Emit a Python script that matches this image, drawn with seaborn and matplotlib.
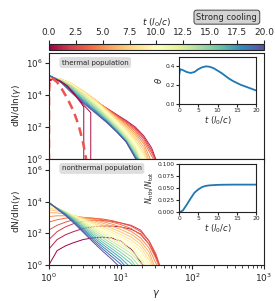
import numpy as np
import pandas as pd
import seaborn as sns
import matplotlib.pyplot as plt
from matplotlib.colors import Normalize
from matplotlib.cm import ScalarMappable

# time steps of the spectra (l0/c)
times = list(range(0, 21))

# thermal population: log10(dN/dln gamma) on a shared gamma grid
therm_gamma = [1.0, 1.2, 1.5, 2.0, 3.0, 4.5, 6.5, 9.0, 12.0, 16.0, 21.0, 27.0, 34.0]
therm_log = {
    1:  [4.95, 5.00, 4.90, 4.60, 4.10, 3.60, 3.15, 2.75, 2.40, 2.00, 1.45, 0.70, -0.5],
    2:  [4.98, 5.02, 4.92, 4.63, 4.12, 3.62, 3.15, 2.73, 2.35, 1.92, 1.35, 0.55, -0.5],
    3:  [5.00, 5.03, 4.93, 4.66, 4.15, 3.63, 3.13, 2.70, 2.30, 1.85, 1.25, 0.40, -0.5],
    4:  [5.02, 5.04, 4.95, 4.70, 4.18, 3.65, 3.12, 2.65, 2.22, 1.75, 1.10, 0.20, -0.6],
    5:  [5.04, 5.05, 4.97, 4.73, 4.22, 3.67, 3.10, 2.60, 2.15, 1.62, 0.95, -0.2],
    6:  [5.06, 5.06, 4.98, 4.75, 4.24, 3.68, 3.08, 2.55, 2.05, 1.50, 0.75, -0.5],
    7:  [5.08, 5.07, 4.98, 4.76, 4.25, 3.68, 3.05, 2.48, 1.95, 1.35, 0.55, -0.6],
    8:  [5.10, 5.08, 4.98, 4.76, 4.24, 3.65, 3.00, 2.40, 1.85, 1.20, 0.35, -0.6],
    9:  [5.11, 5.08, 4.97, 4.74, 4.20, 3.60, 2.93, 2.32, 1.75, 1.08, 0.20, -0.5],
    10: [5.12, 5.08, 4.96, 4.72, 4.16, 3.54, 2.86, 2.24, 1.65, 0.95, 0.05, -0.6],
    11: [5.13, 5.08, 4.95, 4.69, 4.11, 3.47, 2.78, 2.15, 1.55, 0.82, -0.2],
    12: [5.14, 5.08, 4.93, 4.65, 4.05, 3.40, 2.70, 2.06, 1.45, 0.70, -0.5],
    13: [5.15, 5.08, 4.91, 4.61, 3.99, 3.32, 2.62, 1.98, 1.36, 0.58, -0.6],
    14: [5.17, 5.07, 4.89, 4.56, 3.92, 3.24, 2.54, 1.90, 1.27, 0.46, -0.6],
    15: [5.18, 5.07, 4.86, 4.50, 3.85, 3.16, 2.47, 1.83, 1.20, 0.35, -0.6],
    16: [5.19, 5.06, 4.84, 4.44, 3.77, 3.08, 2.41, 1.77, 1.14, 0.25, -0.6],
    17: [5.20, 5.06, 4.81, 4.38, 3.70, 3.01, 2.36, 1.72, 1.10, 0.18, -0.6],
    18: [5.22, 5.05, 4.79, 4.32, 3.63, 2.95, 2.31, 1.68, 1.07, 0.12, -0.6],
    19: [5.23, 5.05, 4.77, 4.26, 3.56, 2.90, 2.28, 1.66, 1.05, 0.08, -0.6],
    20: [5.25, 5.05, 4.75, 4.20, 3.50, 2.85, 2.25, 1.65, 1.05, 0.05, -0.6],
}
# earliest spectra with a sharp cutoff
early_gamma = {
    0.0: [1.0, 1.15, 1.4, 1.8, 2.3, 2.8, 3.06, 3.06],
    0.5: [1.0, 1.15, 1.4, 1.8, 2.3, 3.0, 3.83, 3.83],
}
early_log = {
    0.0: [4.85, 5.00, 4.90, 4.55, 4.00, 3.50, 3.25, -1.0],
    0.5: [4.90, 5.00, 4.90, 4.58, 4.05, 3.40, 2.90, -1.0],
}

# Maxwell-Juttner fit (dashed)
mj_gamma = [1.0, 1.0001, 1.003, 1.02, 1.06, 1.15, 1.3, 1.5, 1.8, 2.2, 2.6, 3.0, 3.3]
mj_log = [-2.0, 3.0, 4.2, 4.8, 5.05, 5.0, 4.8, 4.4, 3.8, 3.0, 2.1, 1.0, 0.0]

# nonthermal population
nth_gamma = [1.0, 1.3, 1.7, 2.2, 3.0, 4.0, 5.5, 7.5, 10.0, 14.0, 19.0, 25.0, 31.0, 38.0]
nth_log = {
    0:  [0.0, 0.9, 1.2, 1.4, 1.6, 1.7, 1.75, 1.7, 1.5, 1.0, 0.2, -0.5],
    1:  [1.0, 1.6, 1.9, 2.1, 2.3, 2.4, 2.45, 2.45, 2.4, 2.25, 1.95, 1.3, 0.5, -0.5],
    2:  [1.6, 2.1, 2.4, 2.6, 2.75, 2.8, 2.8, 2.75, 2.65, 2.5, 2.2, 1.5, 0.6, -0.5],
    3:  [2.2, 2.5, 2.7, 2.85, 2.95, 2.95, 2.9, 2.8, 2.65, 2.45, 2.1, 1.5, 0.7, -0.5],
    4:  [2.7, 2.85, 2.95, 3.0, 3.0, 2.95, 2.85, 2.7, 2.55, 2.3, 1.9, 1.3, 0.4, -0.6],
    5:  [3.05, 3.1, 3.1, 3.07, 3.0, 2.9, 2.75, 2.58, 2.4, 2.12, 1.7, 1.05, 0.1, -0.6],
    6:  [3.3, 3.28, 3.2, 3.1, 2.98, 2.83, 2.65, 2.45, 2.24, 1.94, 1.5, 0.8, -0.3],
    7:  [3.48, 3.4, 3.27, 3.12, 2.94, 2.75, 2.54, 2.31, 2.08, 1.76, 1.3, 0.55, -0.5],
    8:  [3.6, 3.48, 3.32, 3.13, 2.9, 2.67, 2.43, 2.18, 1.92, 1.58, 1.1, 0.3, -0.6],
    9:  [3.7, 3.54, 3.35, 3.13, 2.86, 2.6, 2.33, 2.05, 1.77, 1.41, 0.9, 0.05, -0.6],
    10: [3.76, 3.58, 3.37, 3.12, 2.82, 2.53, 2.23, 1.92, 1.62, 1.24, 0.7, -0.2],
    11: [3.8, 3.6, 3.37, 3.1, 2.77, 2.45, 2.12, 1.79, 1.47, 1.07, 0.5, -0.5],
    12: [3.83, 3.6, 3.35, 3.06, 2.7, 2.36, 2.0, 1.65, 1.31, 0.9, 0.3, -0.6],
    13: [3.86, 3.6, 3.33, 3.01, 2.62, 2.26, 1.87, 1.5, 1.15, 0.72, 0.1, -0.6],
    14: [3.88, 3.59, 3.3, 2.96, 2.54, 2.15, 1.74, 1.35, 0.98, 0.52, -0.2],
    15: [3.9, 3.58, 3.27, 2.91, 2.46, 2.04, 1.6, 1.19, 0.8, 0.3, -0.5],
    16: [3.91, 3.57, 3.24, 2.86, 2.38, 1.93, 1.46, 1.03, 0.62, 0.08, -0.6],
    17: [3.92, 3.56, 3.21, 2.81, 2.3, 1.82, 1.32, 0.87, 0.44, -0.2],
    18: [3.93, 3.55, 3.18, 2.76, 2.22, 1.71, 1.18, 0.7, 0.25, -0.5],
    19: [3.94, 3.54, 3.15, 2.71, 2.14, 1.6, 1.04, 0.53, 0.05, -0.6],
    20: [3.95, 3.53, 3.12, 2.66, 2.06, 1.5, 0.9, 0.36, -0.2],
}

# inset curves
inset_t = [0, 0.3, 1, 2, 3, 4, 5, 6, 7, 8, 9, 10, 11, 12, 13, 14, 15, 16, 17, 18, 19, 20]
theta = [0.30, 0.37, 0.36, 0.34, 0.33, 0.34, 0.37, 0.39, 0.40, 0.395, 0.38, 0.355,
         0.33, 0.30, 0.27, 0.245, 0.225, 0.205, 0.19, 0.175, 0.16, 0.145]
nth_frac = [0.0, 0.0, 0.003, 0.015, 0.028, 0.04, 0.047, 0.052, 0.0545, 0.0555, 0.056,
            0.0565, 0.0567, 0.0568, 0.0569, 0.057, 0.057, 0.057, 0.057, 0.057, 0.057, 0.057]


def to_frame(gammas, logs):
    # long table: one row per point, one line per time step
    rows = []
    for t, vals in logs.items():
        g = gammas[t] if isinstance(gammas, dict) else gammas
        for i, v in enumerate(vals):
            rows.append({"t": t, "order": i, "gamma": g[i], "f": 10.0 ** v})
    return pd.DataFrame(rows)


sns.set_style("ticks")
plt.rcParams['font.family'] = ['DejaVu Sans']
plt.rcParams['xtick.labelsize'] = 6.5
plt.rcParams['ytick.labelsize'] = 6.3
plt.rcParams['axes.edgecolor'] = '#222222'

fig = plt.figure(figsize=(2.75, 3.01), dpi=100)
ax_top = fig.add_axes([0.178, 0.472, 0.782, 0.352])
ax_bot = fig.add_axes([0.178, 0.120, 0.782, 0.352])
cax = fig.add_axes([0.178, 0.834, 0.782, 0.021])

norm = (0, 20)
cmap = "Spectral"
lw = 0.7

df_th = to_frame(therm_gamma, therm_log)
df_early = to_frame(early_gamma, early_log)
df_nth = to_frame(nth_gamma, nth_log)

sns.lineplot(data=df_th, x="gamma", y="f", hue="t", units="t", estimator=None,
             palette=cmap, hue_norm=norm, lw=lw, legend=False, sort=False, ax=ax_top)
sns.lineplot(data=df_early, x="gamma", y="f", hue="t", units="t", estimator=None,
             palette=cmap, hue_norm=norm, lw=lw, legend=False, sort=False, ax=ax_top)
ax_top.plot(mj_gamma, [10.0 ** v for v in mj_log], ls=(0, (3.5, 2.2)), color="#f0524f", lw=1.8)

sns.lineplot(data=df_nth, x="gamma", y="f", hue="t", units="t", estimator=None,
             palette=cmap, hue_norm=norm, lw=lw, legend=False, sort=False, ax=ax_bot)

for ax, top in ((ax_top, 10 ** 6.63), (ax_bot, 10 ** 6.69)):
    ax.set_xscale("log")
    ax.set_yscale("log")
    ax.set_xlim(1, 1e3)
    ax.set_ylim(1, top)
    ax.set_yticks([1, 1e2, 1e4, 1e6])
    ax.yaxis.set_minor_locator(plt.NullLocator())
    ax.set_ylabel(r"dN/dln($\gamma$)", fontsize=6.5, labelpad=2)
    ax.tick_params(length=3, pad=1.5)
    ax.tick_params(which="minor", length=1.8)
ax_top.set_xlabel("")
ax_top.tick_params(axis="x", labelbottom=False)
ax_bot.set_xlabel(r"$\gamma$", fontsize=7, labelpad=3)

box = dict(boxstyle="round,pad=0.35", fc="#dedede", ec="none")
ax_top.text(0.06, 0.91, "thermal population", transform=ax_top.transAxes, fontsize=5,
            va="center", bbox=box)
ax_bot.text(0.06, 0.91, "nonthermal population", transform=ax_bot.transAxes, fontsize=5,
            va="center", bbox=box)

# colorbar for time
sm = ScalarMappable(norm=Normalize(0, 20), cmap=cmap)
cb = fig.colorbar(sm, cax=cax, orientation="horizontal")
cb.set_ticks([0, 2.5, 5, 7.5, 10, 12.5, 15, 17.5, 20])
cb.ax.xaxis.set_ticks_position("top")
cb.ax.xaxis.set_label_position("top")
cb.ax.tick_params(labelsize=6.5, length=3, pad=1.5)
cb.set_label(r"$t\ (l_0/c)$", fontsize=6.5, labelpad=2)
cb.outline.set_linewidth(0.8)

fig.text(0.825, 0.943, "Strong cooling", fontsize=6, ha="center", va="center",
         bbox=dict(boxstyle="round,pad=0.3", fc="#d4d4d4", ec="#444444", lw=0.7))

# insets
in_top = fig.add_axes([0.651, 0.654, 0.28, 0.157])
in_bot = fig.add_axes([0.651, 0.296, 0.28, 0.159])
sns.lineplot(x=inset_t, y=theta, ax=in_top, color="#1f77b4", lw=1.3)
sns.lineplot(x=inset_t, y=nth_frac, ax=in_bot, color="#1f77b4", lw=1.3)
in_top.set_ylim(0, 0.5)
in_top.set_yticks([0.0, 0.2, 0.4])
in_top.set_ylabel(r"$\theta$", fontsize=6, labelpad=1)
in_bot.set_ylim(0, 0.1)
in_bot.set_yticks([0.0, 0.025, 0.05, 0.075, 0.1])
in_bot.set_ylabel(r"$N_{\rm nth}/N_{\rm tot}$", fontsize=5.5, labelpad=1)
for ax in (in_top, in_bot):
    ax.set_xlim(0, 20)
    ax.set_xticks([0, 5, 10, 15, 20])
    ax.set_xlabel(r"$t\ (l_0/c)$", fontsize=6, labelpad=1)
    ax.tick_params(labelsize=4.3, length=2, pad=1)
    ax.set_facecolor("white")

fig.savefig("out.png", dpi=100)
